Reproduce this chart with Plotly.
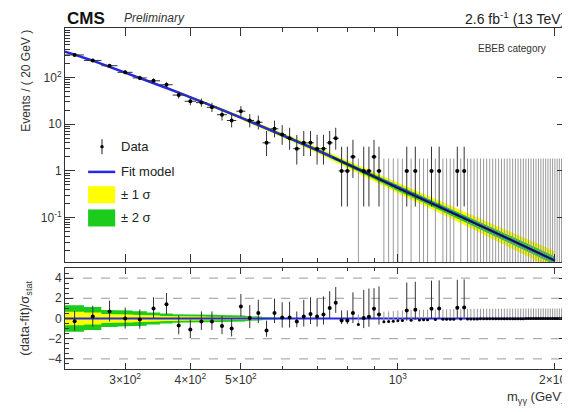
import math
import plotly.graph_objects as go

# ---------------- data ----------------
BIN_WIDTH = 20  # GeV
BIN_CENTERS = [240, 260, 280, 300, 320, 340, 360, 380, 400, 420, 440, 460, 480, 500, 520, 540, 560, 580,
               600, 620, 640, 660, 680, 700, 720, 740, 760, 780, 800, 820, 840, 860, 880, 900, 920,
               940, 960, 980, 1000, 1020, 1040, 1060, 1080, 1100, 1120, 1140, 1160, 1180, 1200,
               1220, 1240, 1260, 1280, 1300, 1320, 1340, 1360, 1380, 1400, 1420, 1440, 1460, 1480, 1500,
               1520, 1540, 1560, 1580, 1600, 1620, 1640, 1660, 1680, 1700, 1720, 1740, 1760, 1780, 1800,
               1820, 1840, 1860, 1880, 1900, 1920, 1940, 1960, 1980, 2000, 2020, 2040, 2060, 2080, 2100]
COUNTS = [304, 232, 179, 129, 98, 85, 70, 42, 31, 29, 23, 16, 12, 19, 12, 11, 4, 8,
          6, 5, 3, 4, 4, 3, 3, 4, 5, 1, 1, 2, 0, 1, 1, 2, 1,
          0, 0, 0, 0, 0, 1, 0, 1, 0, 0, 0, 1, 0, 1,
          0, 0, 0, 0, 1, 0, 1, 0, 0, 0, 0, 0, 0, 0, 0,
          0, 0, 0, 0, 0, 0, 0, 0, 0, 0, 0, 0, 0, 0, 0,
          0, 0, 0, 0, 0, 0, 0, 0, 0, 0, 0, 0, 0, 0, 0]
PULLS = [-0.26, 0.2, 0.7, 0.0, -0.1, 1.0, 1.4, -0.7, -1.1, -0.3, -0.3, -0.75, -1.0, 1.2, 0.05, 0.55, -1.2, 0.55,
         0.1, 0.1, -0.3, 0.2, 0.45, 0.2, 0.4, 1.05, 1.55, -0.2, -0.2, 0.55, -0.59, 0.05, 0.18, 0.96, 0.4,
         -0.32, -0.29, -0.26, -0.23, -0.21, 0.78, -0.17, 0.86, -0.14, -0.13, -0.12, 0.97, -0.10, 1.00,
         -0.085, -0.078, -0.071, -0.065, 1.06, -0.055, 1.09, -0.047, -0.043, -0.040, -0.037, -0.035, -0.032, -0.030, -0.028,
         -0.026, -0.024, -0.023, -0.021, -0.020, -0.019, -0.018, -0.017, -0.016, -0.015, -0.014, -0.013, -0.012, -0.012, -0.011,
         -0.010, -0.010, -0.009, -0.009, -0.008, -0.008, -0.007, -0.007, -0.007, -0.006, -0.006, -0.006, -0.005, -0.005, -0.005]

FIT_MASS = [230, 240, 260, 280, 300, 320, 340, 360, 380, 400, 450, 500, 550, 600, 650, 700, 750, 800,
            900, 1000, 1100, 1200, 1300, 1400, 1600, 1800, 2000]
FIT_VALUE = [355, 309, 229, 170, 129, 99, 76.6, 59.6, 47.3, 38, 22.4, 13.8, 8.9, 5.9, 4.0, 2.79, 1.95, 1.40,
             0.753, 0.427, 0.265, 0.171, 0.114, 0.0778, 0.039, 0.021, 0.012]
BAND1_LOGW = [0.02, 0.02, 0.02, 0.02, 0.02, 0.022, 0.024, 0.026, 0.028, 0.03, 0.035, 0.04, 0.045, 0.05, 0.055,
              0.06, 0.07, 0.08, 0.095, 0.11, 0.12, 0.13, 0.14, 0.15, 0.17, 0.185, 0.2]
BAND2_LOGW = [0.012, 0.012, 0.012, 0.012, 0.012, 0.013, 0.014, 0.015, 0.016, 0.018, 0.021, 0.025, 0.027, 0.03,
              0.032, 0.035, 0.04, 0.045, 0.052, 0.06, 0.064, 0.068, 0.072, 0.076, 0.082, 0.086, 0.09]

RATIO_BAND_CENTERS = [240, 260, 280, 300, 320, 340, 360, 380, 400, 420, 440, 460, 480, 500, 520, 540, 560, 580, 600]
RATIO_BAND2 = [1.3, 1.15, 0.85, 0.78, 0.72, 0.6, 0.5, 0.42, 0.4, 0.38, 0.36, 0.34, 0.32, 0.3, 0.25, 0.18, 0.12, 0.08, 0.05]
RATIO_BAND1 = [0.68, 0.6, 0.45, 0.4, 0.37, 0.3, 0.26, 0.22, 0.2, 0.19, 0.18, 0.17, 0.16, 0.15, 0.12, 0.09, 0.06, 0.04, 0.025]

X_TICKS = [300, 400, 500, 1000, 2000]
X_TICKTEXT = ["3×10<sup>2</sup>", "4×10<sup>2</sup>", "5×10<sup>2</sup>", "10<sup>3</sup>", "2×10<sup>3</sup>"]
X_MINOR = [600, 700, 800, 900]
Y_TICKS = [0.1, 1, 10, 100]
Y_TICKTEXT = ["10<sup>-1</sup>", "1", "10", "10<sup>2</sup>"]
R_TICKS = [-4, -2, 0, 2, 4]

LEGEND_LABELS = ["Data", "Fit model", "± 1 σ", "± 2 σ"]

X_RANGE = [230, 2110]
Y_RANGE_LOG = [-1.95, 3.06]

POISSON = {0: (0.0, 1.841), 1: (0.827, 2.299), 2: (1.292, 2.638), 3: (1.633, 2.918), 4: (1.914, 3.162),
           5: (2.159, 3.382), 6: (2.380, 3.583), 7: (2.581, 3.770), 8: (2.768, 3.944), 9: (2.943, 4.110),
           10: (3.108, 4.266)}


def perr(n):
    if n in POISSON:
        return POISSON[n]
    s = math.sqrt(n)
    return (s, s + 1.0)


FONT = "Liberation Sans, Arial, sans-serif"
BLUE = "#2626e6"
YELLOW = "#ffff00"
GREEN = "#1ccc1c"

fig = go.Figure()

# ---------------- main panel ----------------
up1 = [v * 10 ** w for v, w in zip(FIT_VALUE, BAND1_LOGW)]
dn1 = [v / 10 ** w for v, w in zip(FIT_VALUE, BAND1_LOGW)]
up2 = [v * 10 ** w for v, w in zip(FIT_VALUE, BAND2_LOGW)]
dn2 = [v / 10 ** w for v, w in zip(FIT_VALUE, BAND2_LOGW)]

fig.add_trace(go.Scatter(x=FIT_MASS + FIT_MASS[::-1], y=up1 + dn1[::-1], fill="toself", fillcolor=YELLOW,
                         line=dict(width=0, color=YELLOW), mode="lines", name=LEGEND_LABELS[2],
                         hoverinfo="skip", xaxis="x", yaxis="y"))
fig.add_trace(go.Scatter(x=FIT_MASS + FIT_MASS[::-1], y=up2 + dn2[::-1], fill="toself", fillcolor=GREEN,
                         line=dict(width=0, color=GREEN), mode="lines", name=LEGEND_LABELS[3],
                         hoverinfo="skip", xaxis="x", yaxis="y"))

# zero-count bins: error bars from 0 up to 1.84
zx, zy = [], []
for c, n in zip(BIN_CENTERS, COUNTS):
    if n == 0:
        zx += [c, c, None]
        zy += [1e-3, perr(0)[1], None]
fig.add_trace(go.Scatter(x=zx, y=zy, mode="lines", line=dict(color="#9a9a9a", width=1),
                         hoverinfo="skip", xaxis="x", yaxis="y"))

fig.add_trace(go.Scatter(x=FIT_MASS, y=FIT_VALUE, mode="lines", line=dict(color=BLUE, width=2.5),
                         name=LEGEND_LABELS[1], xaxis="x", yaxis="y"))
hi_mass = [m for m in FIT_MASS if m >= 750]
hi_fit = [v for m, v in zip(FIT_MASS, FIT_VALUE) if m >= 750]
fig.add_trace(go.Scatter(x=hi_mass, y=hi_fit, mode="lines", line=dict(color="#101040", width=1.6),
                         hoverinfo="skip", xaxis="x", yaxis="y"))

dx, dy, dlo, dhi = [], [], [], []
for c, n in zip(BIN_CENTERS, COUNTS):
    if n > 0:
        lo, hi = perr(n)
        dx.append(c); dy.append(n); dlo.append(lo); dhi.append(hi)
fig.add_trace(go.Scatter(x=dx, y=dy, mode="markers", marker=dict(color="black", size=4),
                         error_y=dict(type="data", array=dhi, arrayminus=dlo, color="#333", thickness=1, width=0),
                         error_x=dict(type="constant", value=BIN_WIDTH / 2, color="#333", thickness=1, width=0),
                         name=LEGEND_LABELS[0], xaxis="x", yaxis="y"))

# ---------------- ratio panel ----------------
def step_band(centers, widths):
    xs, ys = [], []
    for c, w in zip(centers, widths):
        xs += [c - BIN_WIDTH / 2, c + BIN_WIDTH / 2]; ys += [w, w]
    for c, w in zip(centers[::-1], widths[::-1]):
        xs += [c + BIN_WIDTH / 2, c - BIN_WIDTH / 2]; ys += [-w, -w]
    return xs, ys


rx, ry = step_band(RATIO_BAND_CENTERS, RATIO_BAND2)
fig.add_trace(go.Scatter(x=rx, y=ry, fill="toself", fillcolor=GREEN, line=dict(width=0, color=GREEN),
                         mode="lines", hoverinfo="skip", xaxis="x2", yaxis="y2"))
rx, ry = step_band(RATIO_BAND_CENTERS, RATIO_BAND1)
fig.add_trace(go.Scatter(x=rx, y=ry, fill="toself", fillcolor=YELLOW, line=dict(width=0, color=YELLOW),
                         mode="lines", hoverinfo="skip", xaxis="x2", yaxis="y2"))

fig.add_trace(go.Scatter(x=[FIT_MASS[0], X_RANGE[1]], y=[0, 0], mode="lines", line=dict(color=BLUE, width=2),
                         hoverinfo="skip", xaxis="x2", yaxis="y2"))

px0, py0, plo0, phi0 = [], [], [], []
px1, py1, plo1, phi1 = [], [], [], []
for c, n, p in zip(BIN_CENTERS, COUNTS, PULLS):
    lo, hi = perr(n)
    if n == 0:
        px0.append(c); py0.append(p); plo0.append(0.0); phi0.append(1.0)
    else:
        if p >= 0:
            el, eh = 1.0, hi / lo
        else:
            el, eh = lo / hi, 1.0
        px1.append(c); py1.append(p); plo1.append(el); phi1.append(eh)
fig.add_trace(go.Scatter(x=px0, y=py0, mode="markers", marker=dict(color="black", size=3),
                         error_y=dict(type="data", array=phi0, arrayminus=plo0, color="#9a9a9a", thickness=1, width=0),
                         hoverinfo="skip", xaxis="x2", yaxis="y2"))
fig.add_trace(go.Scatter(x=px1, y=py1, mode="markers", marker=dict(color="black", size=4),
                         error_y=dict(type="data", array=phi1, arrayminus=plo1, color="#333", thickness=1, width=0),
                         hoverinfo="skip", xaxis="x2", yaxis="y2"))

# ---------------- layout ----------------
axis_common = dict(showline=True, linecolor="#333", linewidth=1, mirror="ticks", ticks="inside",
                   tickcolor="#333", tickwidth=1, showgrid=False, zeroline=False, automargin=False,
                   tickfont=dict(family=FONT, size=12, color="#333"))

y_minor = []
for dec in [0.01, 0.1, 1, 10, 100]:
    for k in range(2, 11):
        y_minor.append(k * dec)

MAIN_DOMAIN = [0.3138, 1.0]
RATIO_DOMAIN = [0.0, 0.2962]

# the page body has an 8px default margin, so the figure is 8px smaller than the window
fig.update_layout(
    width=562, height=404, template="none",
    margin=dict(l=57, r=3, t=20, b=43),
    paper_bgcolor="white", plot_bgcolor="white",
    font=dict(family=FONT, color="#222"),
    showlegend=False,
    xaxis=dict(axis_common, type="log", range=[math.log10(X_RANGE[0]), math.log10(X_RANGE[1])],
               anchor="y", domain=[0, 1], tickmode="array", tickvals=X_TICKS, ticklen=8,
               showticklabels=False,
               minor=dict(tickmode="array", tickvals=X_MINOR, ticks="inside", ticklen=4, tickcolor="#333")),
    yaxis=dict(axis_common, type="log", range=Y_RANGE_LOG, domain=MAIN_DOMAIN, anchor="x",
               tickmode="array", tickvals=Y_TICKS, ticktext=Y_TICKTEXT, ticklen=10,
               minor=dict(tickmode="array", tickvals=y_minor, ticks="inside", ticklen=5, tickcolor="#333")),
    xaxis2=dict(axis_common, type="log", range=[math.log10(X_RANGE[0]), math.log10(X_RANGE[1])],
                anchor="y2", domain=[0, 1], matches="x", tickmode="array", tickvals=X_TICKS,
                ticktext=X_TICKTEXT, ticklen=6, ticklabeloverflow="allow",
                minor=dict(tickmode="array", tickvals=X_MINOR, ticks="inside", ticklen=3, tickcolor="#333")),
    yaxis2=dict(axis_common, range=[-5, 5], domain=RATIO_DOMAIN, anchor="x2",
                tickmode="array", tickvals=R_TICKS, ticklen=8,
                minor=dict(dtick=0.5, ticks="inside", ticklen=4, tickcolor="#333")),
)

for yv in [-4, -2, 2, 4]:
    fig.add_shape(type="line", xref="x2 domain", yref="y2", x0=0, x1=1, y0=yv, y1=yv,
                  line=dict(color="#9a9a9a", width=1, dash="dash"), layer="below")

# ---------------- legend (drawn by hand, ROOT style) ----------------
LX0, LX1, LTX = 0.046, 0.100, 0.108
LEG_Y = [0.652, 0.578, 0.511, 0.443]
fig.add_shape(type="line", xref="paper", yref="paper", x0=0.0737, x1=0.0737, y0=LEG_Y[0] - 0.022,
              y1=LEG_Y[0] + 0.022, line=dict(color="#222", width=1))
fig.add_shape(type="circle", xref="paper", yref="paper", x0=0.0737 - 0.0035, x1=0.0737 + 0.0035,
              y0=LEG_Y[0] - 0.005, y1=LEG_Y[0] + 0.005, fillcolor="black", line=dict(color="black", width=0))
fig.add_shape(type="line", xref="paper", yref="paper", x0=LX0, x1=LX1, y0=LEG_Y[1], y1=LEG_Y[1],
              line=dict(color=BLUE, width=2.5))
fig.add_shape(type="rect", xref="paper", yref="paper", x0=LX0, x1=LX1, y0=LEG_Y[2] - 0.025,
              y1=LEG_Y[2] + 0.025, fillcolor=YELLOW, line=dict(width=0))
fig.add_shape(type="rect", xref="paper", yref="paper", x0=LX0, x1=LX1, y0=LEG_Y[3] - 0.025,
              y1=LEG_Y[3] + 0.025, fillcolor=GREEN, line=dict(width=0))

annos = [
    dict(text="<b>CMS</b>", x=0.0, y=1.028, xanchor="left", yanchor="middle", font=dict(size=17, color="#111")),
    dict(text="<i>Preliminary</i>", x=0.113, y=1.028, xanchor="left", yanchor="middle", font=dict(size=12, color="#333")),
    dict(text="2.6 fb<sup>-1</sup> (13 TeV)", x=1.0, y=1.028, xanchor="right", yanchor="middle", font=dict(size=14, color="#222")),
    dict(text="EBEB category", x=0.962, y=0.941, xanchor="right", yanchor="middle", font=dict(size=10, color="#333")),
    dict(text="Events / ( 20 GeV )", x=-0.078, y=1.0, xanchor="center", yanchor="top", textangle=-90,
         font=dict(size=12, color="#333")),
    dict(text="(data-fit)/σ<sub>stat</sub>", x=-0.078, y=0.15, xanchor="center", yanchor="middle", textangle=-90,
         font=dict(size=13, color="#333")),
    dict(text="m<sub>γγ</sub> (GeV)", x=1.0, y=-0.085, xanchor="right", yanchor="middle", font=dict(size=13, color="#333")),
]
for lbl, ly in zip(LEGEND_LABELS, LEG_Y):
    annos.append(dict(text=lbl, x=LTX, y=ly, xanchor="left", yanchor="middle", font=dict(size=13, color="#222")))
for a in annos:
    a.update(xref="paper", yref="paper", showarrow=False)
    a["font"]["family"] = FONT
    fig.add_annotation(**a)

fig.write_html("out.html")
